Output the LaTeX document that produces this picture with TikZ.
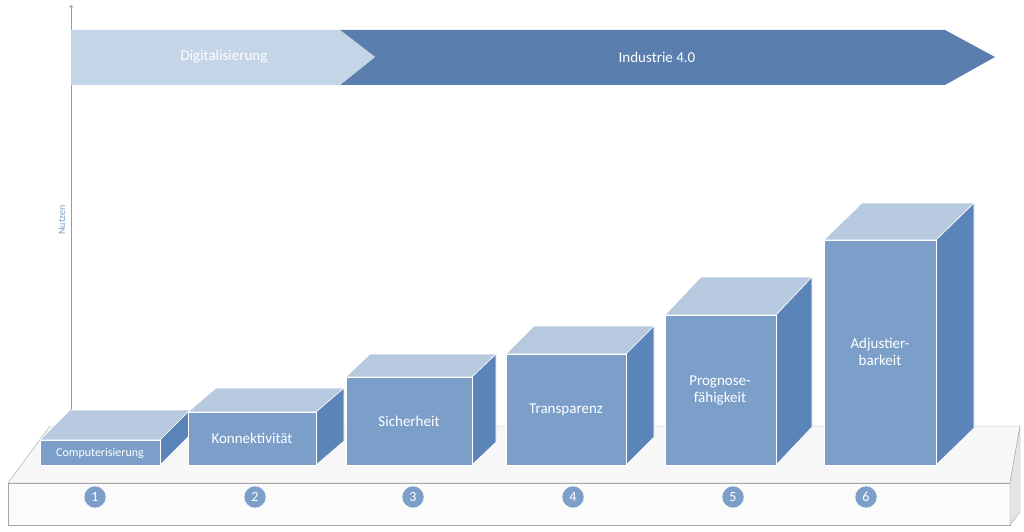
\documentclass[tikz,border=0pt]{standalone}
\usepackage{fontspec}
\setmainfont{Carlito}
\usepackage{tikz}
\usetikzlibrary{calc}
\definecolor{frontblue}{HTML}{7C9FCA}
\definecolor{topblue}{HTML}{B6C9DE}
\definecolor{sideblue}{HTML}{5B84B8}
\definecolor{darkarrow}{HTML}{5A7FAF}
\definecolor{lightarrow}{HTML}{C3D5E6}
\tikzset{
  facefront/.style={fill=frontblue,draw=white,line width=0.6pt},
  facetop/.style={fill=topblue,draw=white,line width=0.6pt},
  faceside/.style={fill=sideblue,draw=white,line width=0.6pt},
  boxlabel/.style={text=white,font=\fontsize{15}{17}\selectfont,align=center},
  numcircle/.style={circle,fill=frontblue,draw=white,minimum size=22pt,inner sep=0pt,text=white,font=\fontsize{14}{14}\selectfont}
}
\begin{document}
\begin{tikzpicture}[x=1pt,y=-1pt]
		\useasboundingbox (0,0) rectangle (1024,532);
		% Plattform
		\filldraw[fill=gray!6,draw=gray!70] (8,483) -- (50,426) -- (1020,426) -- (1010,483) -- cycle; %oben
		\filldraw[fill=gray!3,draw=gray!70] (8,483) rectangle (1010,525); %vorne
		\filldraw[fill=gray!20,draw=gray!70] (1010,483) -- (1020,426) -- (1020,512) -- (1010,525) -- cycle; %seite
		% Achse
		\draw[->,frontblue,line width=0.8pt] (71,440) -- (71,5);
		\node[rotate=90,text=frontblue,font=\fontsize{10}{10}\selectfont] (nutzen) at (62,220) {Nutzen};
		% Pfeile
		\fill[darkarrow] (340,30) -- (945,30) -- (995,57) -- (945,85) -- (340,85) -- (375,57) -- cycle;
		\fill[lightarrow] (71,30) -- (340,30) -- (375,57) -- (340,85) -- (71,85) -- cycle;
		\node[text=white,font=\fontsize{15}{17}\selectfont] (digi) at (224,57) {Digitalisierung};
		\node[text=white,font=\fontsize{15}{17}\selectfont] (ind) at (657,57) {Industrie 4.0};
		% Quader: x links, x rechts, y oben, dx, dy, Text
		\foreach \xa/\xb/\yt/\dx/\dy/\txt/\nx/\nr in {
			40/160/440/30/-30/{\fontsize{12}{14}\selectfont Computerisierung}/95/1,
			188/316/412/28/-24/Konnektivität/255/2,
			346/472/377/24/-23/Sicherheit/413/3,
			506/626/354/28/-28/Transparenz/573/4,
			665/776/315/36/-38/Prognose-\\fähigkeit/733/5,
			824/936/240/38/-37/Adjustier-\\barkeit/866/6}{
			\filldraw[facetop] (\xa,\yt) -- ++(\dx,\dy) -- ($(\xb,\yt)+(\dx,\dy)$) -- (\xb,\yt) -- cycle;
			\filldraw[faceside] (\xb,\yt) -- ++(\dx,\dy) -- ($(\xb,465)+(\dx,\dy)$) -- (\xb,465) -- cycle;
			\filldraw[facefront] (\xa,\yt) rectangle (\xb,465);
			\node[numcircle] (n\nr) at (\nx,497) {\nr};
		}
		\node[boxlabel,font=\fontsize{12}{14}\selectfont] (b1) at (100,453) {Computerisierung};
		\node[boxlabel] (b2) at (252,438) {Konnektivität};
		\node[boxlabel] (b3) at (409,421) {Sicherheit};
		\node[boxlabel] (b4) at (566,410) {Transparenz};
		\node[boxlabel] (b5) at (720,390) {Prognose-\\fähigkeit};
		\node[boxlabel] (b6) at (880,352) {Adjustier-\\barkeit};
	\end{tikzpicture}
\end{document}
